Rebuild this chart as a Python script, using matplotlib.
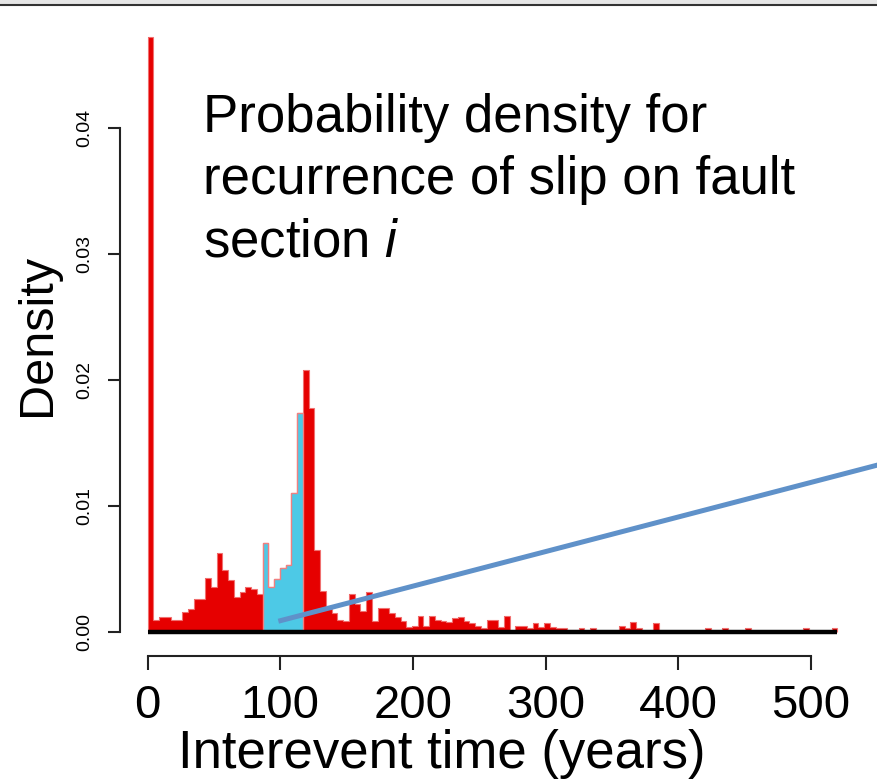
import numpy as np
import matplotlib
matplotlib.use("Agg")
import matplotlib.pyplot as plt
from matplotlib.lines import Line2D
from matplotlib.patches import Rectangle

plt.rcParams['font.family'] = ['Liberation Sans', 'DejaVu Sans']
plt.rcParams['mathtext.fontset'] = 'custom'
plt.rcParams['mathtext.rm'] = 'Liberation Sans'
plt.rcParams['mathtext.it'] = 'Liberation Sans:italic'

# histogram of interevent times, 120 bins over 0-520 years
t_max = 520
n_bins = 120
density = [
    0.0472, 0.0010, 0.0012, 0.0012, 0.0010, 0.0010, 0.0016, 0.0018, 0.0026, 0.0026,
    0.0043, 0.0036, 0.0063, 0.0049, 0.0041, 0.0028, 0.0032, 0.0036, 0.0034, 0.0030,
    0.0071, 0.0036, 0.0042, 0.0051, 0.0053, 0.0110, 0.0174, 0.0208, 0.0178, 0.0065,
    0.0033, 0.0018, 0.0015, 0.0010, 0.0009, 0.0030, 0.0022, 0.0017, 0.0032, 0.0009,
    0.0019, 0.0019, 0.0015, 0.0012, 0.0009, 0.0004, 0.0005, 0.0013, 0.0005, 0.0013,
    0.0010, 0.0009, 0.0008, 0.0011, 0.0012, 0.0009, 0.0007, 0.0005, 0.0003, 0.0010,
    0.0010, 0.0004, 0.0013, 0.0002, 0.0005, 0.0005, 0.0003, 0.0007, 0.0004, 0.0007,
    0.0004, 0.0003, 0.0003, 0.0002, 0.0002, 0.0003, 0.0001, 0.0003, 0.0001, 0.0000,
    0.0000, 0.0001, 0.0005, 0.0003, 0.0008, 0.0003, 0.0000, 0.0001, 0.0007, 0.0000,
    0.0000, 0.0000, 0.0000, 0.0000, 0.0000, 0.0000, 0.0001, 0.0003, 0.0000, 0.0000,
    0.0003, 0.0001, 0.0000, 0.0001, 0.0003, 0.0000, 0.0000, 0.0000, 0.0000, 0.0000,
    0.0000, 0.0000, 0.0000, 0.0000, 0.0003, 0.0001, 0.0000, 0.0000, 0.0000, 0.0003,
]
# bins highlighted in cyan (index range, end exclusive)
hl_start, hl_end = 20, 27

x_ticks = [0, 100, 200, 300, 400, 500]
y_ticks = [0.0, 0.01, 0.02, 0.03, 0.04]
y_ticklabels = ['0.00', '0.01', '0.02', '0.03', '0.04']

# pointer line (years, density)
pointer_x = [98.6, 552]
pointer_y = [0.00087, 0.0133]

edges = np.linspace(0, t_max, n_bins + 1)
density = np.array(density)

fig = plt.figure(figsize=(8.77, 7.82), dpi=100)
ax = fig.add_axes([0.1368, 0.1611, 0.8495, 0.8223])

ax.stairs(density, edges, fill=True, color='#E60000', lw=0)
ax.stairs(density, edges, fill=False, color='#F07070', lw=0.8)
ax.stairs(density[hl_start:hl_end], edges[hl_start:hl_end + 1], fill=True,
          color='#4DC9E6', lw=0)
ax.stairs(density[hl_start:hl_end], edges[hl_start:hl_end + 1], fill=False,
          color='#F08080', lw=1.0, baseline=0)
ax.hlines(0, 0, t_max, color='black', lw=3.2, zorder=3)

ax.plot(pointer_x, pointer_y, color='#5F91C9', lw=3.6, clip_on=False,
        solid_capstyle='butt', zorder=4)

ax.set_xlim(-20.8, 540.8)
ax.set_ylim(-0.00189, 0.0491)

for s in ['top', 'right']:
    ax.spines[s].set_visible(False)
ax.spines['left'].set_bounds(0, 0.04)
ax.spines['bottom'].set_bounds(0, 500)
for s in ['left', 'bottom']:
    ax.spines[s].set_linewidth(1.5)
    ax.spines[s].set_color('#222222')

ax.set_xticks(x_ticks)
ax.set_xticklabels([str(v) for v in x_ticks], fontsize=34)
ax.set_yticks(y_ticks)
ax.set_yticklabels(y_ticklabels, fontsize=14, rotation=90, va='center')
ax.tick_params(axis='x', length=10, width=1.5, pad=10, color='#222222')
ax.tick_params(axis='y', length=8.5, width=1.5, pad=11, color='#222222')

ax.set_xlabel('Interevent time (years)', fontsize=38)
ax.xaxis.set_label_coords(0.4315, -0.114)
ax.set_ylabel('Density', fontsize=35)
ax.yaxis.set_label_coords(-0.08, 0.5)

ax.text(0.111, 0.876, 'Probability density for\nrecurrence of slip on fault\nsection $\\mathit{i}$',
        transform=ax.transAxes, fontsize=38, va='top', ha='left', linespacing=1.32)

# slide border at the top
fig.patches.append(Rectangle((0, 1 - 4 / 782), 1, 4 / 782, transform=fig.transFigure,
                             color='#e6e6e6', zorder=0))
fig.lines.append(Line2D([0, 1], [1 - 4.5 / 782, 1 - 4.5 / 782], transform=fig.transFigure,
                        color='#333333', lw=1.5))

fig.savefig('out.png', dpi=100)
